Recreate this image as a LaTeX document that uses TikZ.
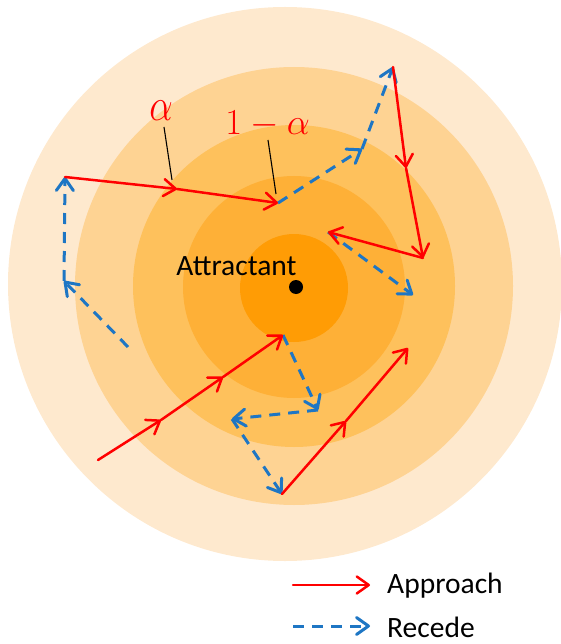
\documentclass[tikz,border=0pt]{standalone}
\usepackage{fontspec}
\setmainfont{Carlito}
\usetikzlibrary{arrows.meta}
\definecolor{ringA}{HTML}{FEE9CE}
\definecolor{ringB}{HTML}{FED393}
\definecolor{ringC}{HTML}{FEC15C}
\definecolor{ringD}{HTML}{FEB037}
\definecolor{ringE}{HTML}{FF9C05}
\definecolor{apred}{HTML}{FF0000}
\definecolor{recblue}{HTML}{1E76C4}
\begin{document}
\begin{tikzpicture}[x=1pt,y=-1pt,
  tipstyle/.style={-{Straight Barb[length=12pt,width=17pt,round]}},
  appr/.style={draw=apred, line width=2.5pt, line cap=round, tipstyle},
  rec/.style={draw=recblue, line width=3pt, dash pattern=on 11pt off 8pt, tipstyle},
  leader/.style={draw=black, line width=1.1pt},
  mathlbl/.style={text=apred, font=\Huge, scale=1.47, inner sep=0pt},
  txt/.style={font=\fontsize{29.5}{33}\selectfont, inner sep=0pt, text=black}]
\useasboundingbox (0,0) rectangle (561,644);
% concentric zones
\fill[ringA] (285,284) circle[radius=277pt];
\fill[ringB] (294,286) circle[radius=219pt];
\fill[ringC] (294,286) circle[radius=161pt];
\fill[ringD] (294,287) circle[radius=111pt];
\fill[ringE] (294,288) circle[radius=54pt];
% attractant
\fill[black] (296,287) circle[radius=7pt];
\node[txt, anchor=base] (attr) at (236.5,275) {Attractant};
% way points
\coordinate (a0) at (65,177);
\coordinate (a1) at (177,189);
\coordinate (a2) at (278,203);
\coordinate (b1) at (362,149);
\coordinate (b2) at (393,67);
\coordinate (c1) at (406,168);
\coordinate (c2) at (423,258);
\coordinate (c3) at (328,232);
\coordinate (c4) at (413,295);
\coordinate (d0) at (128,347);
\coordinate (d1) at (64,281);
\coordinate (e0) at (98,460);
\coordinate (e1) at (161,420);
\coordinate (e2) at (223,377);
\coordinate (e3) at (283,335);
\coordinate (f1) at (318,410);
\coordinate (f2) at (232,419);
\coordinate (f3) at (282,494);
\coordinate (g1) at (346,421);
\coordinate (g2) at (408,348);
% recede steps
\draw[rec] (d0) -- (d1);
\draw[rec] (d1) -- (a0);
\draw[rec] (a2) -- (b1);
\draw[rec] (b1) -- (b2);
\draw[rec] (c3) -- (c4);
\draw[rec] (e3) -- (f1);
\draw[rec] (f1) -- (f2);
\draw[rec] (f2) -- (f3);
% approach steps
\draw[appr] (a0) -- (a1);
\draw[appr] (a1) -- (a2);
\draw[appr] (b2) -- (c1);
\draw[appr] (c1) -- (c2);
\draw[appr] (c2) -- (c3);
\draw[appr] (e0) -- (e1);
\draw[appr] (e1) -- (e2);
\draw[appr] (e2) -- (e3);
\draw[appr] (f3) -- (g1);
\draw[appr] (g1) -- (g2);
% labels
\node[mathlbl, xscale=1.02, yscale=1.25] (alpha) at (161,111) {$\alpha$};
\node[mathlbl, anchor=base west] (onemin) at (225,135) {$1-\alpha$};
\coordinate (l1a) at (164,127);
\coordinate (l1b) at (172,180);
\coordinate (l2a) at (268,140);
\coordinate (l2b) at (276,194);
\draw[leader] (l1a) -- (l1b);
\draw[leader] (l2a) -- (l2b);
% legend
\coordinate (la0) at (293,585);
\coordinate (la1) at (370,585);
\coordinate (lr0) at (293,626);
\coordinate (lr1) at (370,626);
\draw[appr] (la0) -- (la1);
\draw[rec] (lr0) -- (lr1);
\node[txt, anchor=base west] (lapp) at (387,593) {Approach};
\node[txt, anchor=base west] (lrec) at (387,637) {Recede};
\end{tikzpicture}
\end{document}
